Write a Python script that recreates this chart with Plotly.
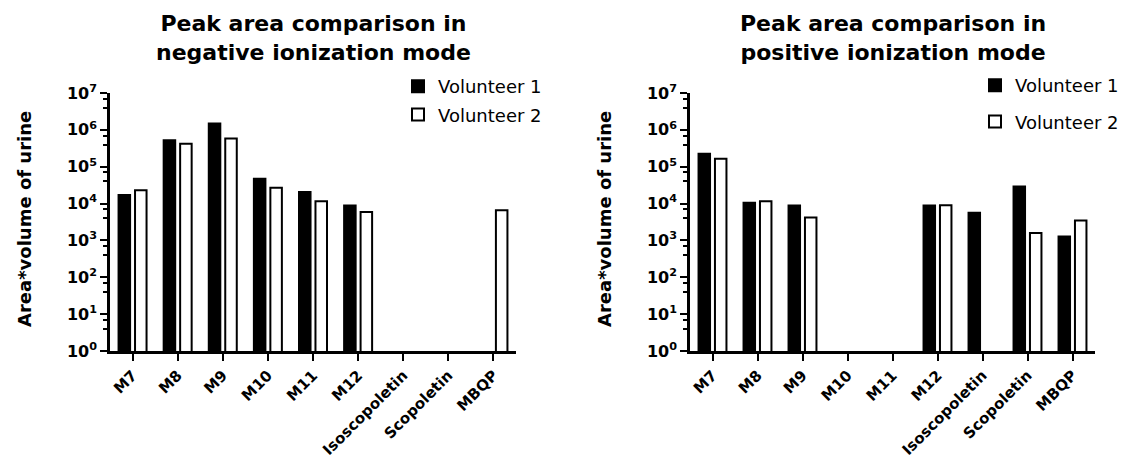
import plotly.graph_objects as go

# Compounds measured in both ionization modes
compounds = ["M7", "M8", "M9", "M10", "M11", "M12", "Isoscopoletin", "Scopoletin", "MBQP"]

# Peak area x urine volume (None = not detected)
neg_volunteer1 = [1.7e4, 5.2e5, 1.48e6, 4.7e4, 2.05e4, 8.9e3, None, None, None]
neg_volunteer2 = [2.3e4, 4.2e5, 5.8e5, 2.7e4, 1.15e4, 5.9e3, None, None, 6.6e3]
pos_volunteer1 = [2.25e5, 1.05e4, 8.9e3, None, None, 8.9e3, 5.6e3, 2.9e4, 1.27e3]
pos_volunteer2 = [1.65e5, 1.15e4, 4.2e3, None, None, 9.0e3, None, 1.6e3, 3.5e3]

decades = list(range(0, 8))
tick_values = [10 ** d for d in decades]
tick_labels = [f"10<sup>{d}</sup>" for d in decades]

W, H = 1128, 461
ML, MR, MT, MB = 110, 33, 93, 110
PW, PH = W - ML - MR, H - MT - MB


def px_x(px):
    return (px - ML) / PW


def px_y(py):
    return (H - MB - py) / PH


FONT = "DejaVu Sans"
BLACK = "#000000"

fig = go.Figure()

panels = [
    ("x", "y", neg_volunteer1, neg_volunteer2, "legend"),
    ("x2", "y2", pos_volunteer1, pos_volunteer2, "legend2"),
]
for xa, ya, v1, v2, leg in panels:
    fig.add_trace(go.Bar(
        x=compounds, y=v1, name="Volunteer 1", xaxis=xa, yaxis=ya,
        marker=dict(color=BLACK, line=dict(color=BLACK, width=2)),
        legend=leg, legendgroup=leg + "a",
    ))
    fig.add_trace(go.Bar(
        x=compounds, y=v2, name="Volunteer 2", xaxis=xa, yaxis=ya,
        marker=dict(color="white", line=dict(color=BLACK, width=2)),
        legend=leg, legendgroup=leg + "b",
    ))

minor_vals = [m * 10 ** d for d in range(0, 7) for m in (4, 7)]

xaxis_style = dict(
    showline=True, linewidth=2.5, linecolor=BLACK,
    ticks="outside", ticklen=7, tickwidth=2, tickcolor=BLACK,
    tickangle=-45, tickfont=dict(family=FONT, size=15, color=BLACK, weight=700),
    showgrid=False, zeroline=False, range=[-0.5, 8.5], automargin=False,
)
yaxis_style = dict(
    type="log", range=[0, 7],
    showline=True, linewidth=2.5, linecolor=BLACK,
    ticks="outside", ticklen=7, tickwidth=2, tickcolor=BLACK,
    tickmode="array", tickvals=tick_values, ticktext=tick_labels,
    tickfont=dict(family=FONT, size=16, color=BLACK, weight=700),
    minor=dict(tickmode="array", tickvals=minor_vals, ticks="outside",
               ticklen=4, tickwidth=2, tickcolor=BLACK, showgrid=False),
    showgrid=False, zeroline=False, automargin=False,
)

left_dom = [0, px_x(516)]
right_dom = [px_x(690), 1]

fig.update_layout(
    width=W, height=H,
    margin=dict(l=ML, r=MR, t=MT, b=MB, autoexpand=False),
    paper_bgcolor="white", plot_bgcolor="white",
    barmode="group", bargap=0.27, bargroupgap=0.3,
    font=dict(family=FONT, color=BLACK),
    xaxis=dict(domain=left_dom, anchor="y", **xaxis_style),
    yaxis=dict(domain=[0, 1], anchor="x", **yaxis_style),
    xaxis2=dict(domain=right_dom, anchor="y2", **xaxis_style),
    yaxis2=dict(domain=[0, 1], anchor="x2", **yaxis_style),
    legend=dict(x=px_x(398), y=px_y(68), xanchor="left", yanchor="top",
                font=dict(family=FONT, size=18, color=BLACK),
                bgcolor="rgba(0,0,0,0)", tracegroupgap=2),
    legend2=dict(x=px_x(975), y=px_y(67), xanchor="left", yanchor="top",
                 font=dict(family=FONT, size=18, color=BLACK),
                 bgcolor="rgba(0,0,0,0)", tracegroupgap=10),
    showlegend=True,
)

titles = [
    ("Peak area comparison in<br>negative ionization mode", sum(left_dom) / 2),
    ("Peak area comparison in<br>positive ionization mode", sum(right_dom) / 2),
]
for text, cx in titles:
    fig.add_annotation(
        text=f"<b>{text}</b>", xref="paper", yref="paper",
        x=cx, y=px_y(9), xanchor="center", yanchor="top",
        showarrow=False, font=dict(family=FONT, size=22, color=BLACK),
    )

for cx in (px_x(24), px_x(604)):
    fig.add_annotation(
        text="<b>Area*volume of urine</b>", xref="paper", yref="paper",
        x=cx, y=px_y(219), xanchor="center", yanchor="middle",
        textangle=-90, showarrow=False,
        font=dict(family=FONT, size=18, color=BLACK),
    )

fig.write_html("out.html")
